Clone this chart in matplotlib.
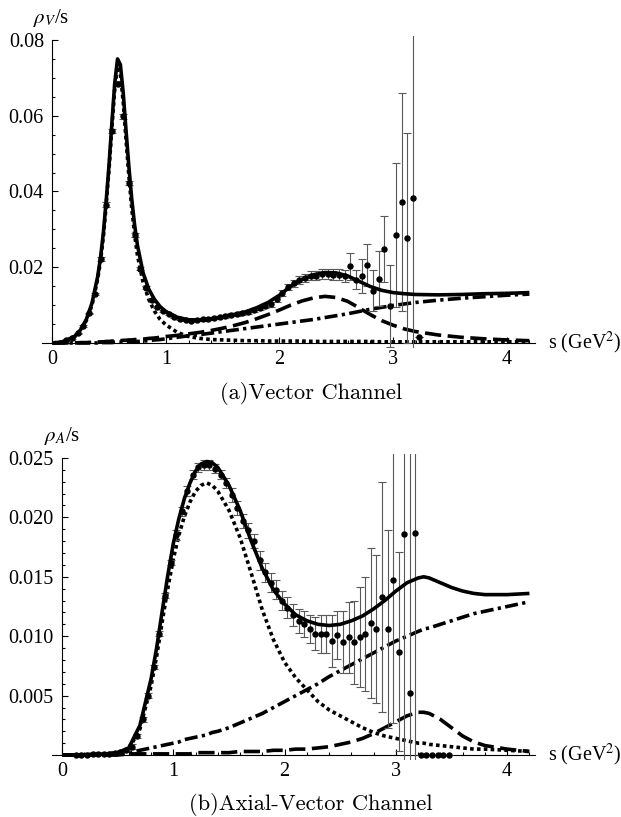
import matplotlib
matplotlib.use("Agg")
import matplotlib.pyplot as plt
from matplotlib.ticker import MultipleLocator, FixedLocator, FormatStrFormatter

plt.rcParams["font.family"] = ["Liberation Serif", "DejaVu Serif"]
plt.rcParams["mathtext.fontset"] = "stix"

# ---- vector channel: data (s in GeV^2, rho_V/s) ----
vec_s = [0.125, 0.175, 0.225, 0.275, 0.325, 0.375, 0.425, 0.475, 0.525, 0.575,
         0.625, 0.675, 0.725, 0.775, 0.825, 0.875, 0.925, 0.975, 1.025, 1.075,
         1.125, 1.175, 1.225, 1.275, 1.325, 1.375, 1.425, 1.475, 1.525, 1.575,
         1.625, 1.675, 1.725, 1.775, 1.825, 1.875, 1.925, 1.975, 2.025, 2.075,
         2.125, 2.175, 2.225, 2.275, 2.325, 2.375, 2.425, 2.475, 2.525, 2.575,
         2.625, 2.675, 2.725, 2.775, 2.825, 2.875, 2.925, 2.975, 3.025, 3.075,
         3.125, 3.175, 3.225]
vec_val = [0.0008, 0.0013, 0.0025, 0.0045, 0.0078, 0.0130, 0.0222, 0.0365, 0.0560, 0.0685,
           0.0598, 0.0422, 0.0285, 0.0196, 0.0146, 0.0113, 0.0095, 0.0084, 0.0076, 0.0069,
           0.0064, 0.0061, 0.0059, 0.0060, 0.0062, 0.0064, 0.0066, 0.0068, 0.0071, 0.0074,
           0.0076, 0.0079, 0.0082, 0.0087, 0.0091, 0.0097, 0.0102, 0.0115, 0.0132, 0.0148,
           0.0158, 0.0166, 0.0172, 0.0177, 0.0178, 0.0181, 0.0182, 0.0180, 0.0180, 0.0176,
           0.0202, 0.0167, 0.0178, 0.0205, 0.0138, 0.0170, 0.0248, 0.0097, 0.0285, 0.0372,
           0.0278, 0.0382, 0.0016]
vec_err = [0.0002, 0.0002, 0.0002, 0.0002, 0.0002, 0.0003, 0.0005, 0.0006, 0.0006, 0.0006,
           0.0006, 0.0006, 0.0005, 0.0004, 0.0004, 0.0004, 0.0003, 0.0003, 0.0003, 0.0003,
           0.0003, 0.0003, 0.0003, 0.0003, 0.0003, 0.0003, 0.0003, 0.0003, 0.0004, 0.0004,
           0.0004, 0.0004, 0.0005, 0.0005, 0.0005, 0.0006, 0.0006, 0.0006, 0.0007, 0.0008,
           0.0009, 0.0010, 0.0011, 0.0012, 0.0013, 0.0013, 0.0014, 0.0015, 0.0015, 0.0016,
           0.0035, 0.0025, 0.0045, 0.0055, 0.0054, 0.0073, 0.0088, 0.0108, 0.0190, 0.0287,
           0.0277, 0.0500, 0.0]

# ---- vector channel: fit curves ----
vfit_s = [0.0, 0.1, 0.2, 0.25, 0.3, 0.35, 0.4, 0.425, 0.45, 0.475, 0.5, 0.525, 0.55,
          0.575, 0.6, 0.625, 0.65, 0.675, 0.7, 0.725, 0.75, 0.8, 0.85, 0.9, 0.95, 1.0,
          1.1, 1.2, 1.3, 1.4, 1.5, 1.6, 1.7, 1.8, 1.9, 2.0, 2.1, 2.2, 2.3, 2.4, 2.5,
          2.6, 2.7, 2.8, 2.9, 3.0, 3.1, 3.2, 3.4, 3.6, 3.8, 4.0, 4.2]
vfit_total = [0.0, 0.0003, 0.0018, 0.0035, 0.0062, 0.0105, 0.0175, 0.0225, 0.0290, 0.0375,
              0.0470, 0.0580, 0.0685, 0.0750, 0.0735, 0.0660, 0.0560, 0.0465, 0.0380,
              0.0312, 0.0258, 0.0185, 0.0142, 0.0115, 0.0096, 0.0083, 0.0068, 0.0061,
              0.0061, 0.0064, 0.0069, 0.0075, 0.0082, 0.0093, 0.0107, 0.0126, 0.0150,
              0.0168, 0.0180, 0.0186, 0.0185, 0.0177, 0.0163, 0.0149, 0.0139, 0.0133,
              0.0130, 0.0128, 0.0127, 0.0128, 0.0130, 0.0131, 0.0133]
vfit_rho = [0.0, 0.0003, 0.0017, 0.0033, 0.0059, 0.0100, 0.0168, 0.0217, 0.0280, 0.0364,
            0.0458, 0.0566, 0.0668, 0.0730, 0.0712, 0.0636, 0.0535, 0.0440, 0.0355,
            0.0287, 0.0232, 0.0160, 0.0115, 0.0084, 0.0062, 0.0048, 0.0028, 0.0017,
            0.0012, 0.0009, 0.0008, 0.0007, 0.0006, 0.0006, 0.0005, 0.0005, 0.0005,
            0.0005, 0.0004, 0.0004, 0.0004, 0.0004, 0.0004, 0.0004, 0.0003, 0.0003,
            0.0003, 0.0003, 0.0003, 0.0003, 0.0003, 0.0003, 0.0003]
vfit_rho2 = [0.0, 0.0, 0.0, 0.0001, 0.0001, 0.0002, 0.0002, 0.0003, 0.0003, 0.0004,
             0.0004, 0.0005, 0.0005, 0.0006, 0.0006, 0.0007, 0.0007, 0.0008, 0.0008,
             0.0009, 0.0009, 0.0010, 0.0012, 0.0013, 0.0015, 0.0017, 0.0020, 0.0024,
             0.0028, 0.0033, 0.0039, 0.0046, 0.0054, 0.0064, 0.0075, 0.0087, 0.0100,
             0.0111, 0.0119, 0.0123, 0.0120, 0.0110, 0.0093, 0.0075, 0.0059, 0.0047,
             0.0037, 0.0030, 0.0021, 0.0015, 0.0011, 0.0008, 0.0006]
vfit_cont = [0.0, 0.0, 0.0, 0.0, 0.0, 0.0, 0.0, 0.0001, 0.0001, 0.0001, 0.0001, 0.0001,
             0.0002, 0.0002, 0.0002, 0.0002, 0.0003, 0.0003, 0.0003, 0.0003, 0.0004,
             0.0005, 0.0006, 0.0008, 0.0009, 0.0011, 0.0015, 0.0019, 0.0022, 0.0026,
             0.0030, 0.0034, 0.0038, 0.0042, 0.0046, 0.0050, 0.0054, 0.0058, 0.0062,
             0.0067, 0.0072, 0.0077, 0.0083, 0.0089, 0.0094, 0.0099, 0.0103, 0.0107,
             0.0113, 0.0118, 0.0122, 0.0126, 0.0129]

# ---- axial-vector channel: data ----
ax_s = vec_s[:-1] + [3.225, 3.275, 3.325, 3.375, 3.425, 3.475]
ax_val = [0.00002, 0.00003, 0.00004, 0.00005, 0.00006, 0.00008, 0.00011, 0.00016, 0.00025, 0.0004,
          0.0007, 0.0016, 0.0030, 0.0050, 0.0074, 0.0102, 0.0134, 0.0162, 0.0185, 0.0205,
          0.0222, 0.0236, 0.0242, 0.0244, 0.0244, 0.0241, 0.0236, 0.0229, 0.0219, 0.0208,
          0.0197, 0.0189, 0.0180, 0.0164, 0.0154, 0.0145, 0.0139, 0.0130, 0.0124, 0.0118,
          0.0113, 0.0110, 0.0106, 0.0102, 0.0102, 0.0102, 0.0096, 0.0101, 0.0095, 0.0099,
          0.0095, 0.0099, 0.0102, 0.0111, 0.0106, 0.0133, 0.0106, 0.0147, 0.0087, 0.0186,
          0.0052, 0.0187,
          0.0, 0.0, 0.0, 0.0, 0.0, 0.0]
ax_err = [0.00002, 0.00002, 0.00002, 0.00002, 0.00002, 0.00002, 0.00002, 0.00002, 0.00002, 0.00002,
          0.0002, 0.0002, 0.0002, 0.0002, 0.0002, 0.0002, 0.0002, 0.0002, 0.0004, 0.0004,
          0.0004, 0.0004, 0.0004, 0.0004, 0.0004, 0.0004, 0.0004, 0.0004, 0.0006, 0.0006,
          0.0006, 0.0006, 0.0006, 0.0008, 0.0008, 0.0008, 0.0008, 0.0008, 0.0009, 0.0009,
          0.0010, 0.0011, 0.0012, 0.0014, 0.0016, 0.0016, 0.0022, 0.0020, 0.0026, 0.0030,
          0.0035, 0.0042, 0.0048, 0.0063, 0.0062, 0.0097, 0.0083, 0.0120, 0.0084, 0.0300,
          0.0300, 0.0300,
          0.0, 0.0, 0.0, 0.0, 0.0, 0.0]

# ---- axial-vector channel: fit curves ----
afit_s = [0.0, 0.2, 0.4, 0.5, 0.6, 0.7, 0.8, 0.85, 0.9, 0.95, 1.0, 1.05, 1.1, 1.15,
          1.2, 1.25, 1.3, 1.35, 1.4, 1.5, 1.6, 1.7, 1.8, 1.9, 2.0, 2.1, 2.2, 2.3, 2.4,
          2.5, 2.6, 2.7, 2.8, 2.9, 3.0, 3.1, 3.2, 3.25, 3.3, 3.4, 3.5, 3.6, 3.7, 3.8,
          4.0, 4.2]
afit_total = [0.0, 0.00003, 0.0001, 0.0002, 0.0006, 0.0025, 0.0064, 0.0090, 0.0121,
              0.0151, 0.0178, 0.0199, 0.0216, 0.0229, 0.0239, 0.0245, 0.0247, 0.0246,
              0.0242, 0.0227, 0.0206, 0.0180, 0.0157, 0.0139, 0.0127, 0.0118, 0.0113,
              0.0110, 0.0109, 0.0110, 0.0113, 0.0117, 0.0123, 0.0130, 0.0138, 0.0145,
              0.0149, 0.0150, 0.0149, 0.0145, 0.0141, 0.0138, 0.0136, 0.0135, 0.0135, 0.0136]
afit_a1 = [0.0, 0.00002, 0.0001, 0.0002, 0.0005, 0.0022, 0.0058, 0.0083, 0.0112, 0.0140,
           0.0165, 0.0185, 0.0201, 0.0213, 0.0222, 0.0227, 0.0229, 0.0227, 0.0222,
           0.0206, 0.0183, 0.0153, 0.0122, 0.0097, 0.0078, 0.0065, 0.0055, 0.0045,
           0.0038, 0.0033, 0.0028, 0.0023, 0.0019, 0.0016, 0.0014, 0.0012, 0.0010,
           0.0010, 0.0009, 0.0008, 0.0007, 0.0006, 0.0005, 0.0005, 0.0004, 0.0003]
afit_a1p = [0.0, 0.0, 0.0, 0.0, 0.0001, 0.0001, 0.0001, 0.0001, 0.0001, 0.0001, 0.0001,
            0.0001, 0.0001, 0.0001, 0.0002, 0.0002, 0.0002, 0.0002, 0.0002, 0.0002,
            0.0003, 0.0003, 0.0003, 0.0004, 0.0004, 0.0005, 0.0005, 0.0006, 0.0007,
            0.0009, 0.0011, 0.0014, 0.0018, 0.0023, 0.0028, 0.0033, 0.0036, 0.0036, 0.0035,
            0.0030, 0.0023, 0.0016, 0.0011, 0.0008, 0.0005, 0.0003]
afit_cont = [0.0, 0.0, 0.0, 0.0001, 0.0002, 0.0004, 0.0006, 0.0007, 0.0008, 0.0009,
             0.0010, 0.0011, 0.0013, 0.0014, 0.0015, 0.0016, 0.0017, 0.0019, 0.0020,
             0.0023, 0.0027, 0.0031, 0.0035, 0.0040, 0.0045, 0.0050, 0.0055, 0.0060,
             0.0066, 0.0071, 0.0076, 0.0081, 0.0086, 0.0091, 0.0096, 0.0100, 0.0104,
             0.0106, 0.0107, 0.0110, 0.0113, 0.0116, 0.0119, 0.0121, 0.0125, 0.0129]

W, H = 621, 817
LW = 2.6
DOT = (0, (1.0, 0.9))
DASH = (0, (4.5, 1.8))
DASHDOT = (0, (3.6, 1.2, 0.9, 1.2))


def px_axes(fig, left, top, right, bottom):
    return fig.add_axes([left / W, 1 - bottom / H, (right - left) / W, (bottom - top) / H])


def style_axes(ax, ylim, ytop, ymajor, yminor, yfmt):
    ax.set_xlim(-0.09, 4.25)
    ax.set_ylim(*ylim)
    for side in ("top", "right"):
        ax.spines[side].set_visible(False)
    ax.spines["left"].set_position(("data", 0))
    ax.spines["bottom"].set_position(("data", 0))
    ax.spines["left"].set_bounds(0, ytop)
    for sp in ("left", "bottom"):
        ax.spines[sp].set_linewidth(0.8)
    ax.xaxis.set_major_locator(FixedLocator([0, 1, 2, 3, 4]))
    ax.xaxis.set_minor_locator(MultipleLocator(0.2))
    ticks = []
    t = ymajor
    while t <= ytop + 1e-9:
        ticks.append(t)
        t += ymajor
    ax.yaxis.set_major_locator(FixedLocator(ticks))
    ax.yaxis.set_minor_locator(MultipleLocator(yminor))
    ax.yaxis.set_major_formatter(FormatStrFormatter(yfmt))
    ax.tick_params(which="both", direction="in", width=0.8, labelsize=14.5)
    ax.tick_params(which="major", length=4.0)
    ax.tick_params(which="minor", length=2.3)
    ax.tick_params(axis="x", pad=5)
    ax.tick_params(axis="y", pad=6)
    ax.patch.set_visible(False)


def draw_panel(ax, s_data, y_data, e_data, s_fit, total, peak1, peak2, cont):
    ax.errorbar(s_data, y_data, yerr=e_data, fmt="o", color="black", ms=3.6,
                ecolor="0.35", elinewidth=0.8, capsize=2.6, capthick=0.8, zorder=3)
    ax.plot(s_fit, cont, color="black", lw=LW, ls=DASHDOT, dash_capstyle="butt", zorder=2)
    ax.plot(s_fit, peak2, color="black", lw=LW, ls=DASH, dash_capstyle="butt", zorder=2)
    ax.plot(s_fit, peak1, color="black", lw=LW, ls=DOT, dash_capstyle="butt", zorder=2)
    ax.plot(s_fit, total, color="black", lw=LW, solid_capstyle="butt", zorder=4)


fig = plt.figure(figsize=(W / 100, H / 100), dpi=100)

ax1 = px_axes(fig, 42, 36.2, 535, 347.5)
style_axes(ax1, (-0.0012, 0.081), 0.08, 0.02, 0.005, "%.2f")
draw_panel(ax1, vec_s, vec_val, vec_err, vfit_s, vfit_total, vfit_rho, vfit_rho2, vfit_cont)

ax2 = px_axes(fig, 52, 454.4, 535, 759.8)
style_axes(ax2, (-0.0004, 0.0253), 0.025, 0.005, 0.001, "%.3f")
draw_panel(ax2, ax_s, ax_val, ax_err, afit_s, afit_total, afit_a1, afit_a1p, afit_cont)

fig.text(51 / W, 1 - 18 / H, r"$\rho_V$/s", ha="center", va="center", fontsize=15)
fig.text(62 / W, 1 - 436 / H, r"$\rho_A$/s", ha="center", va="center", fontsize=15)
fig.text(548 / W, 1 - 343 / H, r"s (GeV$^2$)", ha="left", va="center", fontsize=14.5)
fig.text(548 / W, 1 - 755 / H, r"s (GeV$^2$)", ha="left", va="center", fontsize=14.5)
fig.text(311 / W, 1 - 393 / H, "(a)Vector Channel", ha="center", va="center",
         fontsize=16.2, family="cmr10")
fig.text(311 / W, 1 - 805 / H, "(b)Axial-Vector Channel", ha="center", va="center",
         fontsize=16.2, family="cmr10")

fig.savefig("out.png", dpi=100)
